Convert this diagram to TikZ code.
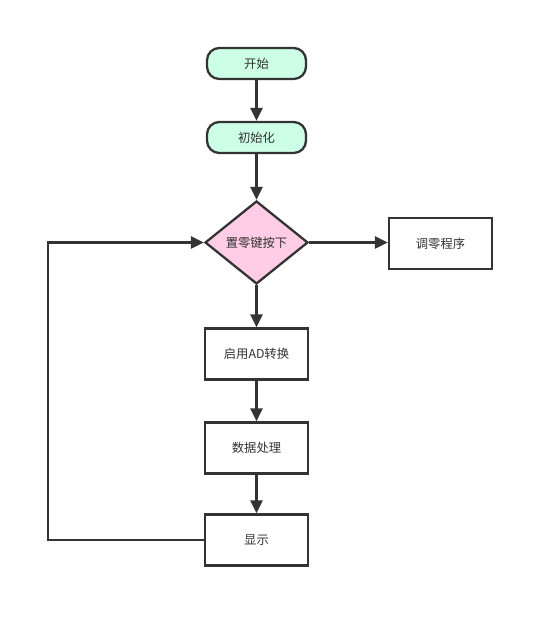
\documentclass[tikz,border=0pt]{standalone}
\usepackage{fontspec}
\setmainfont{Noto Sans CJK SC}
\usetikzlibrary{arrows.meta, shapes.geometric}
\definecolor{mint}{HTML}{CCFFE6}
\definecolor{pinkish}{HTML}{FFCCE6}
\definecolor{ink}{HTML}{333333}

\begin{document}
\begin{tikzpicture}[
  >={Triangle[length=2.6mm, width=2.4mm]},
  every node/.style={text=ink, font=\fontsize{7}{8}\selectfont},
  term/.style={rounded corners=7pt, draw=ink, fill=mint, line width=1.3pt, minimum width=1.98cm, minimum height=0.62cm, inner sep=0pt},
  proc/.style={draw=ink, fill=white, line width=1.3pt, minimum width=2.06cm, minimum height=1.02cm, inner sep=0pt},
  decide/.style={diamond, draw=ink, fill=pinkish, line width=1.3pt, minimum width=2.06cm, minimum height=1.66cm, inner sep=0pt},
  flow/.style={ink, line width=1.3pt, ->},
]

% Canvas
\useasboundingbox (0,0) rectangle (11.06,12.56);

% Start and init
\node[term] (start) at (5.13,11.29) {开始};
\node[term] (init) at (5.13,9.81) {初始化};

% Zero key check
\node[decide] (zero) at (5.13,7.71) {置零键按下};

% Zero adjust routine
\node[proc] (adjust) at (8.81,7.69) {调零程序};

% Main chain
\node[proc] (adc) at (5.13,5.48) {启用AD转换};
\node[proc] (data) at (5.13,3.60) {数据处理};
\node[proc] (show) at (5.13,1.76) {显示};

% Arrows down
\draw[flow] (start.south) -- (init.north);
\draw[flow] (init.south) -- (zero.north);
\draw[flow] (zero.south) -- (adc.north);
\draw[flow] (adc.south) -- (data.north);
\draw[flow] (data.south) -- (show.north);

% Branch to the right
\draw[flow] (zero.east) -- (adjust.west |- zero.east);

% Loop back
\coordinate (back) at (0.96,1.76);
\draw[flow] (show.west) -- (back) |- (zero.west);

\end{tikzpicture}
\end{document}
